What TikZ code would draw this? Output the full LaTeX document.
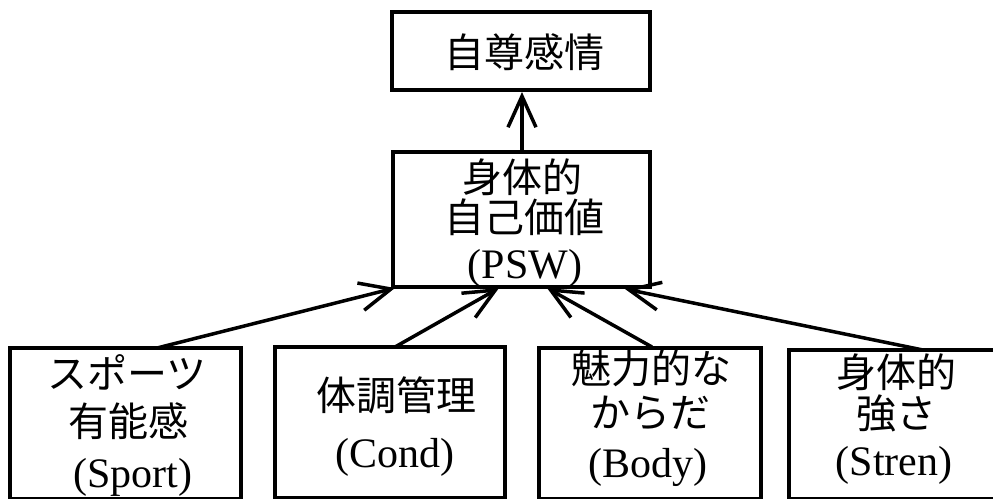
\documentclass[tikz,border=0pt]{standalone}
\usepackage{fontspec}
\setmainfont{Liberation Serif}
\newfontfamily\jp{Noto Sans CJK JP}
\usetikzlibrary{arrows.meta}
\begin{document}
\begin{tikzpicture}[x=1pt,y=-1pt,
  box/.style={draw,line width=4pt,inner sep=0pt,outer sep=0pt,anchor=north west},
  jt/.style={anchor=base,inner sep=0pt,font=\jp\fontsize{40}{40}\selectfont},
  lt/.style={anchor=base,inner sep=0pt,font=\fontsize{42}{42}\selectfont},
  arr/.style={line width=3.5pt,-{Straight Barb[length=31pt,width=28pt]}}]
\useasboundingbox (0,0) rectangle (993,498);
\begin{scope}
\clip (0,0) rectangle (993,498);
% boxes
\node[box,minimum width=258pt,minimum height=78pt] (top) at (392,12) {};
\node[box,minimum width=257pt,minimum height=135pt] (psw) at (393,152) {};
\node[box,minimum width=231pt,minimum height=151pt] (sport) at (10,348) {};
\node[box,minimum width=230pt,minimum height=151pt] (cond) at (275,347) {};
\node[box,minimum width=222pt,minimum height=151pt] (body) at (539,348) {};
\node[box,minimum width=230pt,minimum height=149pt] (stren) at (789,350) {};
% texts
\node[jt] (t0) at (524,67) {自尊感情};
\node[jt] (p1) at (522,192) {身体的};
\node[jt] (p2) at (524,232) {自己価値};
\node[lt] (p3) at (525,278) {(PSW)};
\node[jt] (s1) at (127,388) {スポーツ};
\node[jt] (s2) at (128,436) {有能感};
\node[lt] (s3) at (133,487) {(Sport)};
\node[jt] (c1) at (396,410) {体調管理};
\node[lt] (c2) at (395,467) {(Cond)};
\node[jt] (b1) at (651,383) {魅力的な};
\node[jt] (b2) at (650,427) {からだ};
\node[lt] (b3) at (648,477) {(Body)};
\node[jt] (r1) at (896,387) {身体的};
\node[jt] (r2) at (896,428) {強さ};
\node[lt] (r3) at (894,475) {(Stren)};
% connector ends
\coordinate (pswtop) at (522,152);
\coordinate (topbot) at (522,92);
\coordinate (e1) at (395,288);
\coordinate (e2) at (499,288);
\coordinate (e3) at (547,288);
\coordinate (e4) at (625,289);
\coordinate (a1) at (157,348);
\coordinate (a2) at (395,347);
\coordinate (a3) at (652,347);
\coordinate (a4) at (923,350);
\draw[arr] (pswtop) -- (topbot);
\draw[arr] (a1) -- (e1);
\draw[arr] (a2) -- (e2);
\draw[arr] (a3) -- (e3);
\draw[arr] (a4) -- (e4);
\end{scope}
\end{tikzpicture}
\end{document}
